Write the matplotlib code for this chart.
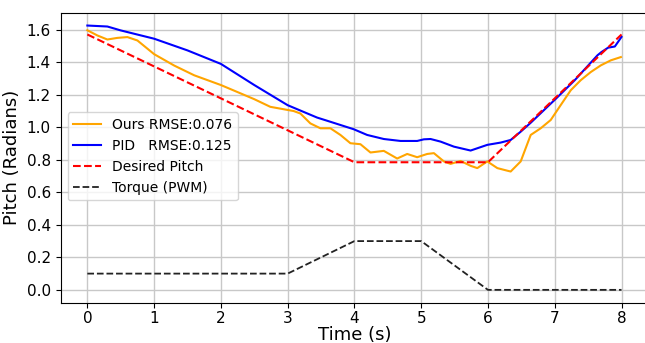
import matplotlib
matplotlib.use("Agg")
import matplotlib.pyplot as plt

# PID response
pid_t = [0, 0.3, 0.5, 1.0, 1.5, 2.0, 2.5, 3.0, 3.44, 3.64, 3.99, 4.19, 4.44, 4.69, 4.94,
         5.04, 5.14, 5.29, 5.49, 5.74, 5.99, 6.19, 6.34, 6.49, 6.64, 7.02, 7.3, 7.64,
         7.7, 7.8, 7.9, 8.0]
pid_y = [1.626, 1.62, 1.596, 1.545, 1.473, 1.39, 1.26, 1.136, 1.06, 1.034, 0.988, 0.953,
         0.928, 0.916, 0.916, 0.926, 0.928, 0.912, 0.881, 0.857, 0.892, 0.906, 0.922,
         0.973, 1.028, 1.177, 1.29, 1.443, 1.463, 1.49, 1.497, 1.556]

# our controller
ours_t = [0, 0.15, 0.3, 0.45, 0.6, 0.75, 1.0, 1.3, 1.6, 2.0, 2.5, 2.74, 3.09, 3.19, 3.34,
          3.49, 3.64, 3.79, 3.94, 4.09, 4.24, 4.44, 4.64, 4.79, 4.94, 5.09, 5.19, 5.34,
          5.44, 5.59, 5.74, 5.84, 5.99, 6.14, 6.29, 6.34, 6.49, 6.64, 6.79, 6.94, 7.09,
          7.24, 7.39, 7.54, 7.69, 7.84, 7.99]
ours_y = [1.597, 1.565, 1.54, 1.55, 1.555, 1.534, 1.45, 1.38, 1.32, 1.26, 1.173, 1.126,
          1.10, 1.085, 1.024, 0.994, 0.994, 0.953, 0.902, 0.896, 0.845, 0.855, 0.808,
          0.836, 0.816, 0.836, 0.841, 0.79, 0.775, 0.793, 0.763, 0.749, 0.79, 0.749,
          0.733, 0.728, 0.79, 0.953, 0.994, 1.045, 1.137, 1.228, 1.29, 1.34, 1.381,
          1.412, 1.432]

# reference pitch and torque
des_t = [0, 4, 6, 8]
des_y = [1.571, 0.785, 0.785, 1.571]
torque_t = [0, 3, 4, 5, 6, 8]
torque_y = [0.1, 0.1, 0.3, 0.3, 0.0, 0.0]

fig = plt.figure(figsize=(6.45, 3.43), dpi=100)
ax = fig.add_axes([0.094, 0.117, 0.911, 0.846])

ax.plot(ours_t, ours_y, color='orange', lw=1.5, label='Ours RMSE:0.076')
ax.plot(pid_t, pid_y, color='blue', lw=1.5, label='PID   RMSE:0.125')
ax.plot(des_t, des_y, '--', color='red', lw=1.5, label='Desired Pitch')
ax.plot(torque_t, torque_y, '--', color='#222222', lw=1.3, label='Torque (PWM)')

ax.set_xlim(-0.4, 8.4)
ax.set_ylim(-0.08, 1.705)
ax.set_xticks(range(9))
ax.set_yticks([0.0, 0.2, 0.4, 0.6, 0.8, 1.0, 1.2, 1.4, 1.6])
ax.tick_params(labelsize=11)
ax.tick_params(axis='x', pad=2.5)
ax.grid(True, color='#c8c8c8', lw=1)
ax.set_xlabel('Time (s)', fontsize=13, labelpad=0)
ax.set_ylabel('Pitch (Radians)', fontsize=13, labelpad=4)
ax.legend(loc='center left', fontsize=10, bbox_to_anchor=(0.0, 0.505))

fig.savefig('out.png', dpi=100)
